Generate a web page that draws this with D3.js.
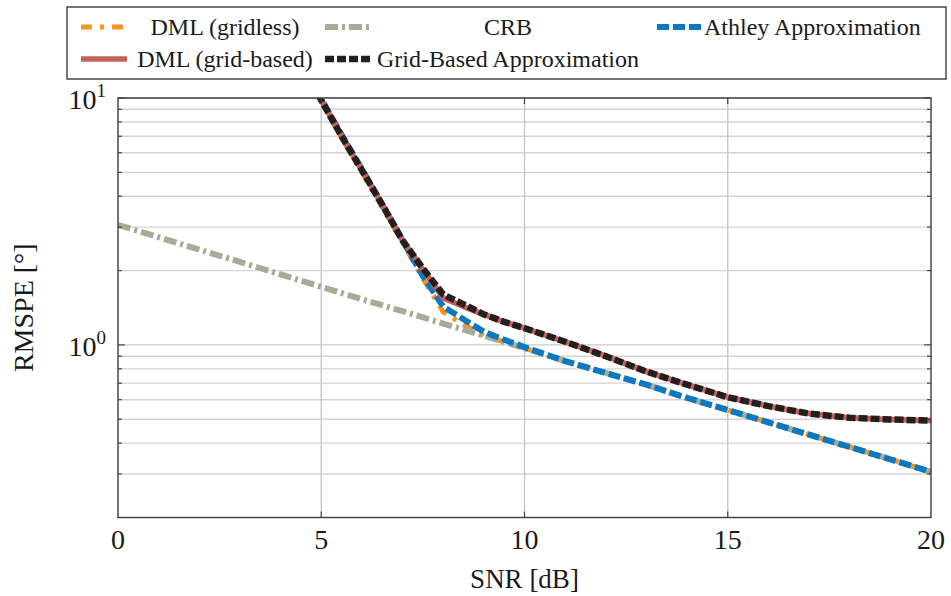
<!DOCTYPE html>
<html>
<head>
<meta charset="utf-8">
<script src="https://cdn.jsdelivr.net/npm/d3@7"></script>
<style>
  html, body { margin: 0; padding: 0; background: #fff; }
  svg { display: block; }
  text { font-family: "Liberation Serif", "DejaVu Serif", serif; fill: #1a1a1a; }
</style>
</head>
<body>
<svg id="chart" width="951" height="596"></svg>
<script>
// ---- data ----
const snr = [4.5, 5, 5.5, 6, 6.5, 7, 7.5, 8, 8.5, 9, 9.5, 10, 11, 12, 13, 14, 15, 16, 17, 18, 19, 20];
const dmlGridless = [13.8, 9.7, 6.9, 5.0, 3.6, 2.6, 1.86, 1.36, 1.21, 1.09, 1.03, 0.97, 0.86, 0.77, 0.69, 0.61, 0.545, 0.486, 0.433, 0.386, 0.344, 0.306];
const athley      = [14.2, 9.9, 7.1, 5.15, 3.7, 2.65, 1.9, 1.43, 1.27, 1.13, 1.05, 0.98, 0.86, 0.77, 0.69, 0.61, 0.545, 0.486, 0.433, 0.386, 0.344, 0.306];
const dmlGrid     = [13.9, 9.8, 7.0, 5.1, 3.7, 2.65, 2.02, 1.55, 1.43, 1.33, 1.24, 1.17, 1.03, 0.90, 0.78, 0.69, 0.614, 0.565, 0.527, 0.507, 0.499, 0.494];
const gridApprox  = [13.9, 9.8, 7.0, 5.1, 3.7, 2.65, 2.04, 1.60, 1.46, 1.33, 1.24, 1.17, 1.03, 0.90, 0.78, 0.69, 0.614, 0.565, 0.527, 0.507, 0.499, 0.494];
const crbSnr = [0, 1, 2, 3, 4, 5, 6, 7, 8, 9, 10, 11, 12, 13, 14, 15, 16, 17, 18, 19, 20];
const crb    = [3.06, 2.73, 2.43, 2.17, 1.93, 1.72, 1.53, 1.37, 1.22, 1.09, 0.97, 0.86, 0.77, 0.69, 0.61, 0.545, 0.486, 0.433, 0.386, 0.344, 0.306];

const xTicks = [0, 5, 10, 15, 20];
const yMajor = [1, 10];
const yMinor = [0.3, 0.4, 0.5, 0.6, 0.7, 0.8, 0.9, 2, 3, 4, 5, 6, 7, 8, 9];

const legendRow1 = ["DML (gridless)", "CRB", "Athley Approximation"];
const legendRow2 = ["DML (grid-based)", "Grid-Based Approximation"];

// ---- layout ----
const svg = d3.select("#chart");
const L = 118, R = 931, T = 98, B = 517.5;
const x = d3.scaleLinear().domain([0, 20]).range([L, R]);
const y = d3.scaleLog().domain([0.2, 10]).range([B, T]);

const gridColor = "#d4d4d4";
const frameColor = "#3c3c3c";

// grid
const g = svg.append("g");
g.selectAll(".ymin").data(yMinor).join("line")
  .attr("x1", L).attr("x2", R).attr("y1", d => y(d)).attr("y2", d => y(d))
  .attr("stroke", gridColor).attr("stroke-width", 1.4);
g.selectAll(".ymaj").data(yMajor).join("line")
  .attr("x1", L).attr("x2", R).attr("y1", d => y(d)).attr("y2", d => y(d))
  .attr("stroke", "#c8c8c8").attr("stroke-width", 1.4);
g.selectAll(".xg").data(xTicks.slice(1, -1)).join("line")
  .attr("x1", d => x(d)).attr("x2", d => x(d)).attr("y1", T).attr("y2", B)
  .attr("stroke", "#c8c8c8").attr("stroke-width", 1.4);

// clip
svg.append("clipPath").attr("id", "clip").append("rect")
  .attr("x", L).attr("y", T).attr("width", R - L).attr("height", B - T);

const plot = svg.append("g").attr("clip-path", "url(#clip)");
const line = d3.line().x(d => x(d[0])).y(d => y(d[1])).curve(d3.curveLinear);

const series = [
  { name: legendRow1[0], xs: snr, ys: dmlGridless, color: "#F7941D", width: 5, dash: "11,8,4,8" },
  { name: legendRow1[1], xs: crbSnr, ys: crb, color: "#A4AE95", width: 6, dash: "13,4,3,4" },
  { name: legendRow1[2], xs: snr, ys: athley, color: "#0A78C2", width: 6, dash: "12,4" },
  { name: legendRow2[0], xs: snr, ys: dmlGrid, color: "#C8605A", width: 5.5, dash: null },
  { name: legendRow2[1], xs: snr, ys: gridApprox, color: "#231F20", width: 6.5, dash: "9,3" }
];

series.forEach(s => {
  plot.append("path")
    .datum(s.xs.map((v, i) => [v, s.ys[i]]))
    .attr("d", line)
    .attr("fill", "none")
    .attr("stroke", s.color)
    .attr("stroke-width", s.width)
    .attr("stroke-dasharray", s.dash)
    .attr("stroke-linejoin", "round");
});

// ticks (inside, all sides)
const tk = svg.append("g").attr("stroke", frameColor).attr("stroke-width", 1.1);
xTicks.slice(1, -1).forEach(v => {
  tk.append("line").attr("x1", x(v)).attr("x2", x(v)).attr("y1", B).attr("y2", B - 6);
  tk.append("line").attr("x1", x(v)).attr("x2", x(v)).attr("y1", T).attr("y2", T + 6);
});
yMinor.forEach(v => {
  tk.append("line").attr("x1", L).attr("x2", L + 4).attr("y1", y(v)).attr("y2", y(v));
  tk.append("line").attr("x1", R).attr("x2", R - 4).attr("y1", y(v)).attr("y2", y(v));
});
yMajor.forEach(v => {
  tk.append("line").attr("x1", L).attr("x2", L + 7).attr("y1", y(v)).attr("y2", y(v));
  tk.append("line").attr("x1", R).attr("x2", R - 7).attr("y1", y(v)).attr("y2", y(v));
});

// frame
svg.append("rect").attr("x", L).attr("y", T).attr("width", R - L).attr("height", B - T)
  .attr("fill", "none").attr("stroke", frameColor).attr("stroke-width", 1.4);

// x tick labels
svg.append("g").selectAll("text").data(xTicks).join("text")
  .attr("x", d => x(d)).attr("y", 549)
  .attr("text-anchor", "middle").attr("font-size", 28)
  .text(d => d);

// y tick labels
const yl = svg.append("g").selectAll("text").data(yMajor).join("text")
  .attr("x", 106).attr("y", d => y(d) + 11)
  .attr("text-anchor", "end").attr("font-size", 28);
yl.append("tspan").text("10");
yl.append("tspan").attr("dy", -12).attr("font-size", 19).text(d => Math.round(Math.log10(d)));

// axis titles
svg.append("text").attr("x", (L + R) / 2).attr("y", 588)
  .attr("text-anchor", "middle").attr("font-size", 27).text("SNR [dB]");
svg.append("text").attr("transform", `translate(33,${(T + B) / 2}) rotate(-90)`)
  .attr("text-anchor", "middle").attr("font-size", 28).text("RMSPE [°]");

// legend
const lg = svg.append("g");
lg.append("rect").attr("x", 67).attr("y", 7).attr("width", 879).attr("height", 72)
  .attr("fill", "#fff").attr("stroke", frameColor).attr("stroke-width", 1.4);

const cols = [
  { sx: 81, tcx: 225 },
  { sx: 325, tcx: 508 },
  { sx: 657, tcx: 811 }
];
const rows = [27, 59];
const legendItems = [
  { s: series[0], r: 0, c: 0 }, { s: series[1], r: 0, c: 1 }, { s: series[2], r: 0, c: 2 },
  { s: series[3], r: 1, c: 0 }, { s: series[4], r: 1, c: 1 }
];
legendItems.forEach(it => {
  const cy = rows[it.r], col = cols[it.c];
  lg.append("line").attr("x1", col.sx).attr("x2", col.sx + 46).attr("y1", cy).attr("y2", cy)
    .attr("stroke", it.s.color).attr("stroke-width", it.s.width)
    .attr("stroke-dasharray", it.s.dash);
  let tx = col.tcx, anchor = "middle";
  if (it.c === 2) { tx = 704; anchor = "start"; }
  lg.append("text").attr("x", tx).attr("y", cy + 8).attr("text-anchor", anchor)
    .attr("font-size", 24).text(it.s.name);
});
</script>
</body>
</html>
